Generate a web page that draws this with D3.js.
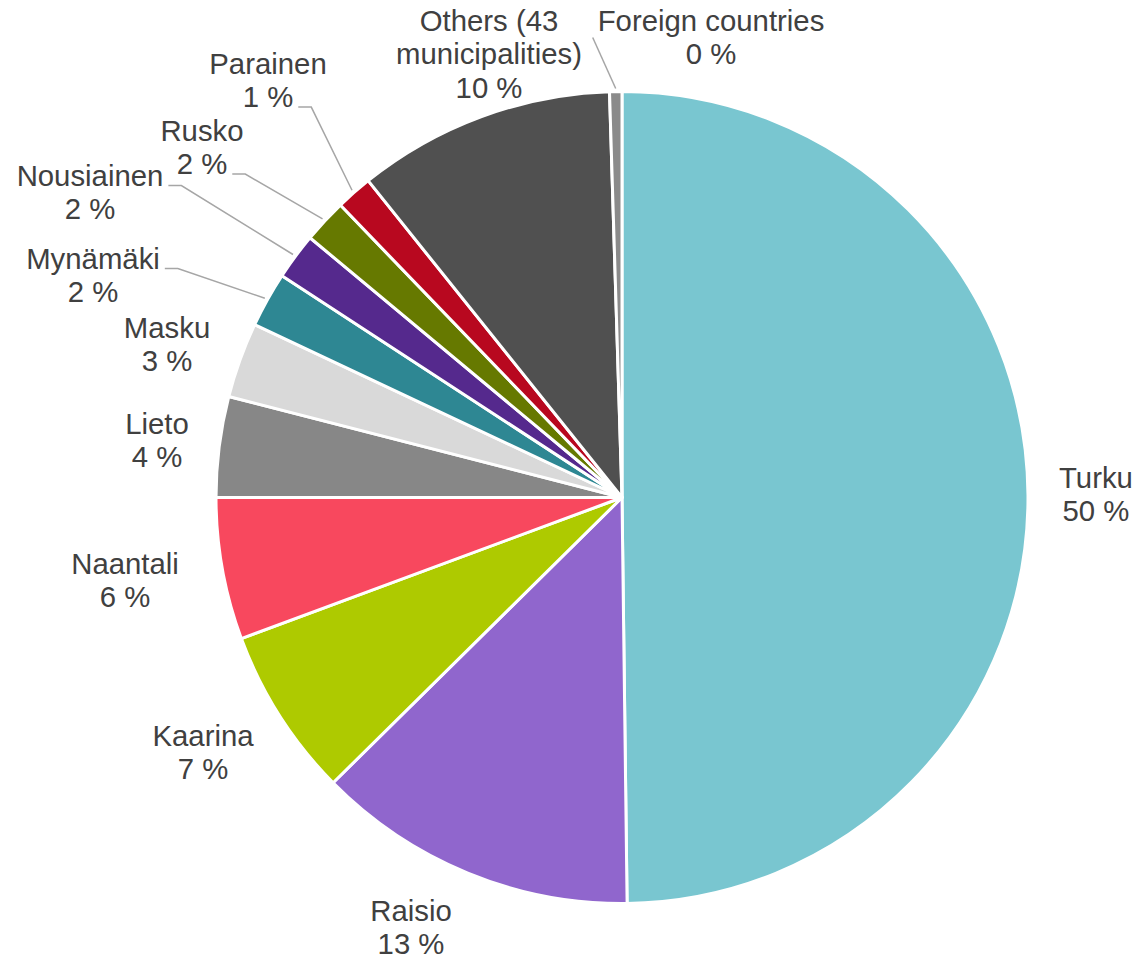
<!DOCTYPE html>
<html>
<head>
<meta charset="utf-8">
<script src="https://cdn.jsdelivr.net/npm/d3@7"></script>
<style>
  html, body { margin: 0; padding: 0; background: #ffffff; }
  text { font-family: "Liberation Sans", Arial, sans-serif; }
</style>
</head>
<body>
<svg id="chart" width="1138" height="960"></svg>
<script>
// Residents by municipality of residence (share of total, %)
const municipalities = [
  "Turku", "Raisio", "Kaarina", "Naantali", "Lieto", "Masku",
  "Mynämäki", "Nousiainen", "Rusko", "Parainen",
  "Others (43 municipalities)", "Foreign countries"
];
const shares = [49.8, 12.8, 6.75, 5.65, 4.0, 3.0, 2.2, 1.85, 1.75, 1.45, 10.26, 0.49];

// Label text, split into lines (percentage line is appended)
const labelNameLines = [
  ["Turku"], ["Raisio"], ["Kaarina"], ["Naantali"], ["Lieto"], ["Masku"],
  ["Mynämäki"], ["Nousiainen"], ["Rusko"], ["Parainen"],
  ["Others (43", "municipalities)"], ["Foreign countries"]
];

const sliceColors = [
  "#79C6D0", "#9066CD", "#AECA00", "#F8485E", "#878787", "#D9D9D9",
  "#2E8793", "#55298D", "#667900", "#B8081F", "#505050", "#8A8A8A"
];

// Label placement: first-line baseline centre, relative to pie centre
const labelOffsets = [
  [474, -10], [-211, 423], [-419, 248], [-497, 76], [-465, -64], [-455, -160],
  [-529, -229], [-532, -312], [-420, -357], [-354, -424], [-133, -467], [89, -467]
];
// Leader lines: which text line the line leaves from (null = none, "left" = straight from left edge)
const leaderFrom = [null, null, null, null, null, null, 0, 0, 1, 1, null, "left"];

const width = 1138, height = 960;
const cx = 622, cy = 497.5, radius = 406;
const fontSize = 29.33, lineStep = 33.6;

const svg = d3.select("#chart");
const g = svg.append("g").attr("transform", `translate(${cx},${cy})`);

const data = municipalities.map((name, i) => ({
  name, value: shares[i], color: sliceColors[i],
  lines: labelNameLines[i].concat([Math.round(shares[i]) + " %"]),
  offset: labelOffsets[i], leader: leaderFrom[i]
}));

const pie = d3.pie().value(d => d.value).sort(null);
const arc = d3.arc().innerRadius(0).outerRadius(radius);
const arcs = pie(data);

g.selectAll("path.slice")
  .data(arcs)
  .join("path")
  .attr("class", "slice")
  .attr("d", arc)
  .attr("fill", d => d.data.color)
  .attr("stroke", "#ffffff")
  .attr("stroke-width", 3)
  .attr("stroke-linejoin", "round");

const labels = g.selectAll("g.label")
  .data(arcs)
  .join("g")
  .attr("class", "label");

labels.each(function(d) {
  const grp = d3.select(this);
  const [ox, oy] = d.data.offset;
  const text = grp.append("text")
    .attr("text-anchor", "middle")
    .attr("font-size", fontSize)
    .attr("fill", "#404040");
  d.data.lines.forEach((line, k) => {
    text.append("tspan")
      .attr("x", ox)
      .attr("y", oy + k * lineStep)
      .text(line);
  });

  if (d.data.leader === null) return;

  // point just outside the slice edge at its middle angle
  const mid = (d.startAngle + d.endAngle) / 2;
  const edgeR = radius + 3;
  const ex = Math.sin(mid) * edgeR;
  const ey = -Math.cos(mid) * edgeR;

  let pts;
  if (d.data.leader === "left") {
    const w = text.select("tspan").node().getComputedTextLength();
    pts = [[ox - w / 2 - 5, oy + 7], [ex, ey]];
  } else {
    const k = d.data.leader;
    const w = text.selectAll("tspan").nodes()[k].getComputedTextLength();
    const sx = ox + w / 2 + 5;
    const sy = oy + k * lineStep;
    pts = [[sx, sy], [sx + 13, sy], [ex, ey]];
  }
  grp.insert("path", "text")
    .attr("d", d3.line()(pts))
    .attr("fill", "none")
    .attr("stroke", "#A6A6A6")
    .attr("stroke-width", 1.5);
});
</script>
</body>
</html>
